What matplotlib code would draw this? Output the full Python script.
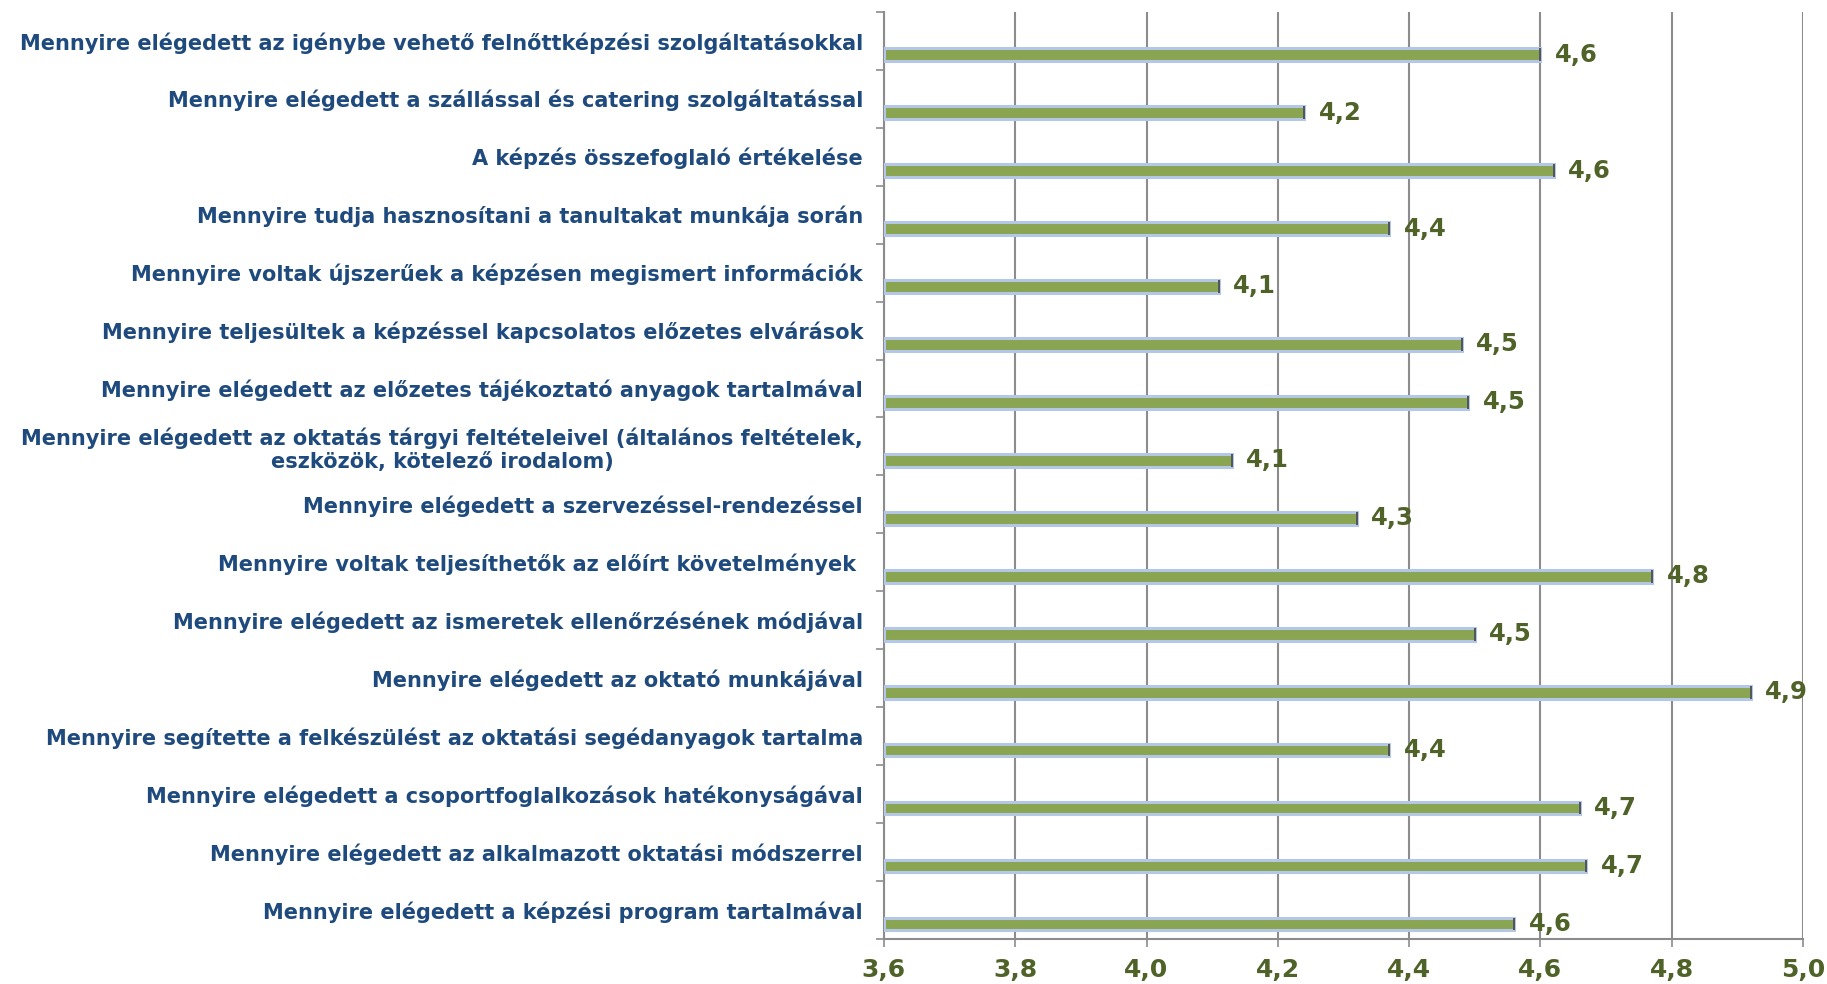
import matplotlib.pyplot as plt
import numpy as np

# kérdések (felülről lefelé) és átlagos értékek
questions = [
    'Mennyire elégedett az igénybe vehető felnőttképzési szolgáltatásokkal',
    'Mennyire elégedett a szállással és catering szolgáltatással',
    'A képzés összefoglaló értékelése',
    'Mennyire tudja hasznosítani a tanultakat munkája során',
    'Mennyire voltak újszerűek a képzésen megismert információk',
    'Mennyire teljesültek a képzéssel kapcsolatos előzetes elvárások',
    'Mennyire elégedett az előzetes tájékoztató anyagok tartalmával',
    'Mennyire elégedett az oktatás tárgyi feltételeivel (általános feltételek,\neszközök, kötelező irodalom)',
    'Mennyire elégedett a szervezéssel-rendezéssel',
    'Mennyire voltak teljesíthetők az előírt követelmények ',
    'Mennyire elégedett az ismeretek ellenőrzésének módjával',
    'Mennyire elégedett az oktató munkájával',
    'Mennyire segítette a felkészülést az oktatási segédanyagok tartalma',
    'Mennyire elégedett a csoportfoglalkozások hatékonyságával',
    'Mennyire elégedett az alkalmazott oktatási módszerrel',
    'Mennyire elégedett a képzési program tartalmával',
]
scores = [4.60, 4.24, 4.62, 4.37, 4.11, 4.48, 4.49, 4.13,
          4.32, 4.77, 4.50, 4.92, 4.37, 4.66, 4.67, 4.56]
x_ticks = [3.6, 3.8, 4.0, 4.2, 4.4, 4.6, 4.8, 5.0]

label_color = '#1f4a7d'
value_color = '#4f6228'
bar_color = '#8aa552'
edge_color = '#b4c7e7'
grid_color = '#8c8c8c'

plt.rcParams['font.family'] = ['DejaVu Sans']
fig = plt.figure(figsize=(18.27, 9.84), dpi=100)
ax = fig.add_axes([0.4838, 0.0457, 0.5031, 0.9423])

n = len(questions)
pos = np.arange(n)
bar_pos = pos + 0.24  # a sáv a kategória alsó részén van
bar_h = 0.22

ax.barh(bar_pos, [s - x_ticks[0] for s in scores], left=x_ticks[0], height=bar_h,
        color=bar_color, edgecolor=edge_color, linewidth=2.2, zorder=3)
ax.vlines(scores, bar_pos - bar_h / 2, bar_pos + bar_h / 2, color='#404040',
          linewidth=1.2, zorder=4)

for y, s in zip(bar_pos, scores):
    ax.text(s + 0.022, y, f'{s:.1f}'.replace('.', ','), va='center', ha='left',
            fontsize=17.5, fontweight='bold', color=value_color, zorder=5)

ax.set_xlim(x_ticks[0], x_ticks[-1])
ax.set_ylim(n - 0.5, -0.5)
ax.set_xticks(x_ticks)
ax.set_xticklabels([f'{t:.1f}'.replace('.', ',') for t in x_ticks],
                   fontsize=18, fontweight='bold', color=value_color)
ax.tick_params(axis='x', length=6, width=1.2, color=grid_color, pad=8)

ax.set_yticks(pos)
ax.set_yticklabels(questions, fontsize=15, fontweight='bold', color=label_color)
for t in ax.get_yticklabels():
    t.set_multialignment('center')
ax.tick_params(axis='y', which='major', length=0, pad=15)
ax.set_yticks(np.arange(n + 1) - 0.5, minor=True)
ax.tick_params(axis='y', which='minor', length=6, width=1.2, color=grid_color)

ax.grid(axis='x', color=grid_color, linewidth=1.5, zorder=0)
ax.set_axisbelow(True)
for side in ['top', 'right']:
    ax.spines[side].set_visible(False)
for side in ['left', 'bottom']:
    ax.spines[side].set_color(grid_color)
    ax.spines[side].set_linewidth(1.5)

fig.savefig('out.png', dpi=100)
